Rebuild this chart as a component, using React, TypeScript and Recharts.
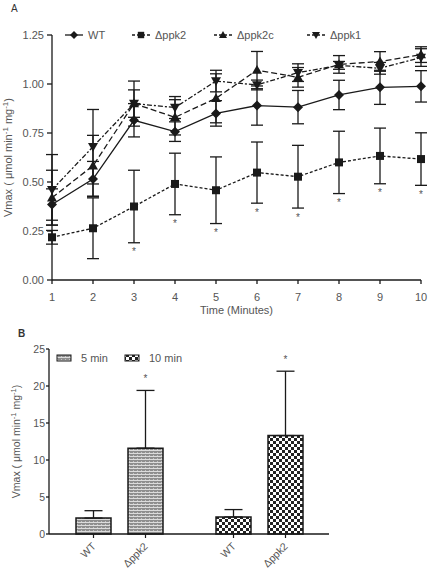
import React from "react";
import { LineChart, Line, BarChart, Bar, Cell, XAxis, YAxis, ErrorBar, Label, LabelList } from "recharts";

// panel A: Vmax over time (mean, SD)
const minutes = [1, 2, 3, 4, 5, 6, 7, 8, 9, 10];
const wtVmax = [0.385, 0.515, 0.815, 0.757, 0.85, 0.89, 0.882, 0.944, 0.983, 0.988];
const wtSd = [0.08, 0.09, 0.085, 0.05, 0.065, 0.1, 0.085, 0.075, 0.087, 0.08];
const ppk2Vmax = [0.218, 0.264, 0.375, 0.49, 0.458, 0.548, 0.527, 0.6, 0.633, 0.617];
const ppk2Sd = [0.035, 0.155, 0.185, 0.157, 0.17, 0.156, 0.16, 0.159, 0.142, 0.134];
const ppk2cVmax = [0.42, 0.583, 0.9, 0.83, 0.927, 1.071, 1.034, 1.1, 1.115, 1.15];
const ppk2cSd = [0.14, 0.155, 0.07, 0.09, 0.125, 0.095, 0.05, 0.045, 0.05, 0.04];
const ppk1Vmax = [0.46, 0.68, 0.9, 0.88, 1.015, 0.995, 1.058, 1.095, 1.08, 1.135];
const ppk1Sd = [0.18, 0.19, 0.115, 0.056, 0.055, 0.025, 0.045, 0.02, 0.03, 0.045];
const ppk2Significant = [false, false, true, true, true, true, true, true, true, true];
const vmaxTicks = [0, 0.25, 0.5, 0.75, 1, 1.25];

// panel B: Vmax after 5 / 10 min
const incubations = ["5 min", "10 min"];
const strains = ["WT", "Δppk2"];
const wtBarVmax = [2.15, 2.3];
const wtBarSd = [1.0, 1.0];
const ppk2BarVmax = [11.6, 13.3];
const ppk2BarSd = [7.8, 8.7];
const barTicks = [0, 5, 10, 15, 20, 25];

const timeCourse = minutes.map((t, i) => ({
  t,
  wt: wtVmax[i],
  wtSd: wtSd[i],
  ppk2: ppk2Vmax[i],
  ppk2Sd: ppk2Sd[i],
  ppk2c: ppk2cVmax[i],
  ppk2cSd: ppk2cSd[i],
  ppk1: ppk1Vmax[i],
  ppk1Sd: ppk1Sd[i],
  ppk2Low: ppk2Significant[i] ? ppk2Vmax[i] - ppk2Sd[i] : null,
}));

const endpoint = incubations.map((name, i) => ({
  name,
  wt: wtBarVmax[i],
  wtSd: [0, wtBarSd[i]],
  ppk2: ppk2BarVmax[i],
  ppk2Sd: [0, ppk2BarSd[i]],
}));

const INK = "#1a1a1a";
const TEXT = "#555";
const FONT = "'Liberation Sans', Arial, sans-serif";
const patterns = ["url(#pat5)", "url(#pat10)"];

type Shape = "diamond" | "square" | "up" | "down";

const series: { key: string; name: string; shape: Shape; dash?: string }[] = [
  { key: "wt", name: "WT", shape: "diamond" },
  { key: "ppk2", name: "Δppk2", shape: "square", dash: "3 2" },
  { key: "ppk2c", name: "Δppk2c", shape: "up", dash: "6 3" },
  { key: "ppk1", name: "Δppk1", shape: "down", dash: "5 2 2 2" },
];

function markerPath(shape: Shape, cx: number, cy: number, r: number) {
  switch (shape) {
    case "diamond":
      return `M${cx},${cy - r}L${cx + r},${cy}L${cx},${cy + r}L${cx - r},${cy}Z`;
    case "square":
      return `M${cx - r * 0.8},${cy - r * 0.8}h${r * 1.6}v${r * 1.6}h${-r * 1.6}Z`;
    case "up":
      return `M${cx},${cy - r}L${cx + r},${cy + r * 0.75}L${cx - r},${cy + r * 0.75}Z`;
    default:
      return `M${cx},${cy + r}L${cx + r},${cy - r * 0.75}L${cx - r},${cy - r * 0.75}Z`;
  }
}

const dotFor = (shape: Shape) => (p: any) => {
  if (p.cx == null || p.cy == null || p.value == null) return <g key={p.index} />;
  return <path key={p.index} d={markerPath(shape, p.cx, p.cy, 5)} fill={INK} />;
};

const starDot = (p: any) => {
  if (p.cx == null || p.cy == null || p.value == null) return <g key={p.index} />;
  return (
    <text key={p.index} x={p.cx} y={p.cy + 12.5} textAnchor="middle" fontSize={10} fill={TEXT} fontFamily={FONT}>
      *
    </text>
  );
};

function VmaxLabel({ viewBox, dx, size }: any) {
  const cx = viewBox.x + dx;
  const cy = viewBox.y + viewBox.height / 2;
  return (
    <text
      x={cx}
      y={cy}
      transform={`rotate(-90 ${cx} ${cy})`}
      textAnchor="middle"
      fontSize={size}
      fill={TEXT}
      fontFamily={FONT}
    >
      Vmax ( μmol min
      <tspan dy={-4} fontSize={size - 3}>-1</tspan>
      <tspan dy={4}> mg</tspan>
      <tspan dy={-4} fontSize={size - 3}>-1</tspan>
      <tspan dy={4}>)</tspan>
    </text>
  );
}

// strain name + tick under each bar
const strainTick = (strain: string) => (p: any) => {
  const cx = p.x + p.width / 2;
  const base = p.y + p.height;
  return (
    <g key={`${strain}-${p.index}`}>
      <line x1={cx} y1={base} x2={cx} y2={base + 4} stroke={INK} strokeWidth={1.2} />
      <text
        x={cx + 3}
        y={base + 13}
        transform={`rotate(-45 ${cx + 3} ${base + 13})`}
        textAnchor="end"
        fontSize={10.5}
        fill={TEXT}
        fontFamily={FONT}
      >
        {strain}
      </text>
    </g>
  );
};

const barStar = (sd: number[]) => (p: any) => {
  const cx = p.x + p.width / 2;
  const top = p.y - sd[p.index] * (p.height / p.value);
  return (
    <text key={p.index} x={cx} y={top - 8} textAnchor="middle" fontSize={10} fill={TEXT} fontFamily={FONT}>
      *
    </text>
  );
};

function PatternDefs() {
  return (
    <defs>
      <pattern id="pat5" width={4} height={3} patternUnits="userSpaceOnUse">
        <rect width={4} height={3} fill="#8e8e8e" />
        <rect y={0} width={4} height={1} fill="#dcdcdc" />
        <rect x={1} y={2} width={1} height={1} fill="#c4c4c4" />
      </pattern>
      <pattern id="pat10" width={6} height={6} patternUnits="userSpaceOnUse">
        <rect width={6} height={6} fill="#fff" />
        <rect width={3} height={3} fill="#222" />
        <rect x={3} y={3} width={3} height={3} fill="#222" />
      </pattern>
    </defs>
  );
}

function LegendA() {
  const xs = [74, 141, 223, 316];
  return (
    <svg width={430} height={22} style={{ position: "absolute", left: 0, top: 24 }}>
      {series.map((s, i) => (
        <g key={s.key}>
          <line x1={xs[i] - 9} x2={xs[i] + 9} y1={11} y2={11} stroke={INK} strokeWidth={1.3} strokeDasharray={s.dash ? "3 2" : undefined} />
          <path d={markerPath(s.shape, xs[i], 11, 4)} fill={INK} />
          <text x={xs[i] + 14} y={15} fontSize={11} fill={TEXT} fontFamily={FONT}>
            {s.name}
          </text>
        </g>
      ))}
    </svg>
  );
}

function LegendB() {
  const xs = [57, 125];
  return (
    <svg width={430} height={20} style={{ position: "absolute", left: 0, top: 348 }}>
      {incubations.map((name, i) => (
        <g key={name}>
          <rect x={xs[i]} y={7} width={14} height={6} fill={patterns[i]} stroke={INK} strokeWidth={1} />
          <text x={xs[i] + 24} y={14} fontSize={11} fill={TEXT} fontFamily={FONT}>
            {name}
          </text>
        </g>
      ))}
    </svg>
  );
}

export default function App() {
  return (
    <div style={{ position: "absolute", left: 0, top: 0, width: 430, height: 575, background: "#fff", fontFamily: FONT }}>
      <div style={{ position: "absolute", left: 11, top: 3, fontSize: 10, color: "#333" }}>A</div>
      <div style={{ position: "absolute", left: 18, top: 328, fontSize: 10, fontWeight: 700, color: "#333" }}>B</div>

      <div style={{ position: "absolute", left: 0, top: 0 }}>
        <LineChart width={430} height={320} data={timeCourse} margin={{ top: 35, right: 9, bottom: 0, left: 0 }}>
          <XAxis
            dataKey="t"
            type="number"
            domain={[1, 10]}
            ticks={minutes}
            height={40}
            stroke={INK}
            strokeWidth={1.3}
            tickSize={4}
            tickMargin={9}
            tick={{ fill: TEXT, fontSize: 11, fontFamily: FONT }}
          >
            <Label value="Time (Minutes)" position="insideBottom" offset={6} fill={TEXT} fontSize={11} fontFamily={FONT} />
          </XAxis>
          <YAxis
            type="number"
            domain={[0, 1.25]}
            ticks={vmaxTicks}
            width={52}
            stroke={INK}
            strokeWidth={1.3}
            tickSize={5}
            tickMargin={3}
            tickFormatter={(v: number) => v.toFixed(2)}
            tick={{ fill: TEXT, fontSize: 11, fontFamily: FONT }}
          >
            <Label content={(p: any) => <VmaxLabel viewBox={p.viewBox} dx={12} size={11} />} />
          </YAxis>
          {series.map((s) => (
            <Line
              key={s.key}
              dataKey={s.key}
              stroke={INK}
              strokeWidth={1.3}
              strokeDasharray={s.dash}
              dot={dotFor(s.shape)}
              activeDot={false}
              isAnimationActive={false}
            >
              <ErrorBar dataKey={`${s.key}Sd`} width={6} stroke={INK} strokeWidth={1.3} direction="y" />
            </Line>
          ))}
          <Line dataKey="ppk2Low" stroke="none" dot={starDot} activeDot={false} isAnimationActive={false} />
        </LineChart>
      </div>

      <LegendA />

      <div style={{ position: "absolute", left: 0, top: 330 }}>
        <BarChart
          width={430}
          height={245}
          data={endpoint}
          margin={{ top: 19, right: 101, bottom: 0, left: 0 }}
          barSize={35}
          barGap={17}
        >
          <PatternDefs />
          <XAxis dataKey="name" height={41} stroke={INK} strokeWidth={1.3} tick={false} tickLine={false} />
          <YAxis
            domain={[0, 25]}
            ticks={barTicks}
            width={49}
            stroke={INK}
            strokeWidth={1.3}
            tickSize={3}
            tickMargin={1}
            tick={{ fill: TEXT, fontSize: 10.5, fontFamily: FONT }}
          >
            <Label content={(p: any) => <VmaxLabel viewBox={p.viewBox} dx={20} size={10.5} />} />
          </YAxis>
          <Bar dataKey="wt" stroke={INK} strokeWidth={1.5} isAnimationActive={false}>
            {endpoint.map((d, i) => (
              <Cell key={d.name} fill={patterns[i]} />
            ))}
            <ErrorBar dataKey="wtSd" width={9} stroke={INK} strokeWidth={1.3} direction="y" />
            <LabelList dataKey="wt" content={strainTick(strains[0])} />
          </Bar>
          <Bar dataKey="ppk2" stroke={INK} strokeWidth={1.5} isAnimationActive={false}>
            {endpoint.map((d, i) => (
              <Cell key={d.name} fill={patterns[i]} />
            ))}
            <ErrorBar dataKey="ppk2Sd" width={9} stroke={INK} strokeWidth={1.3} direction="y" />
            <LabelList dataKey="ppk2" content={strainTick(strains[1])} />
            <LabelList dataKey="ppk2" content={barStar(ppk2BarSd)} />
          </Bar>
        </BarChart>
      </div>

      <LegendB />
    </div>
  );
}
